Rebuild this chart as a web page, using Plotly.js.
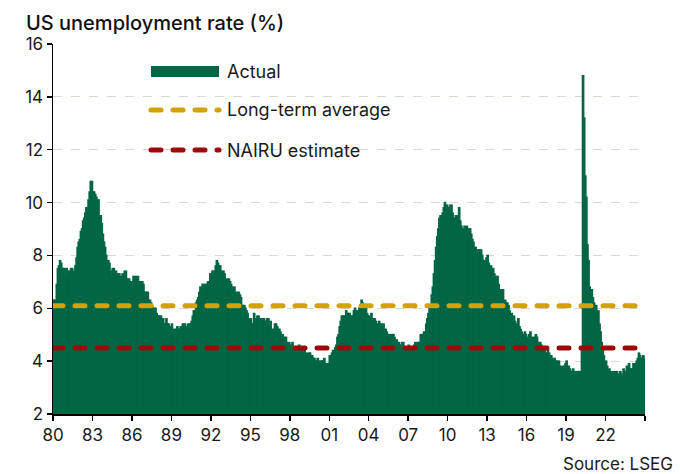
<!DOCTYPE html>
<html>
<head>
<meta charset="utf-8">
<script src="https://cdn.plot.ly/plotly-3.0.1.min.js"></script>
<style>
html,body{margin:0;padding:0;background:#fff;}
#chart{width:680px;height:474px;}
.scatterlayer .js-line{stroke-linecap:round;}
.shapelayer path{stroke-linecap:round;}
</style>
</head>
<body>
<div id="chart"></div>
<script>
// Monthly US unemployment rate (%), Jan 1980 - Dec 2024
const startYear = 1980;
const rate = [
  6.3,6.3,6.3,6.9,7.5,7.6,7.8,7.7,7.5,7.5,7.5,7.2,
  7.5,7.4,7.4,7.2,7.5,7.5,7.2,7.4,7.6,7.9,8.3,8.5,
  8.6,8.9,9.0,9.3,9.4,9.6,9.8,9.8,10.1,10.4,10.8,10.8,
  10.4,10.4,10.3,10.2,10.1,10.1,9.4,9.5,9.2,8.8,8.5,8.3,
  8.0,7.8,7.8,7.7,7.4,7.2,7.5,7.5,7.3,7.4,7.2,7.3,
  7.3,7.2,7.2,7.3,7.2,7.4,7.4,7.1,7.1,7.1,7.0,7.0,
  6.7,7.2,7.2,7.1,7.2,7.2,7.0,6.9,7.0,7.0,6.9,6.6,
  6.6,6.6,6.6,6.3,6.3,6.2,6.1,6.0,5.9,6.0,5.8,5.7,
  5.7,5.7,5.7,5.4,5.6,5.4,5.4,5.6,5.4,5.4,5.3,5.3,
  5.4,5.2,5.0,5.2,5.2,5.3,5.2,5.2,5.3,5.3,5.4,5.4,
  5.4,5.3,5.2,5.4,5.4,5.2,5.5,5.7,5.9,5.9,6.2,6.3,
  6.4,6.6,6.8,6.7,6.9,6.9,6.8,6.9,6.9,7.0,7.0,7.3,
  7.3,7.4,7.4,7.4,7.6,7.8,7.7,7.6,7.6,7.3,7.4,7.4,
  7.3,7.1,7.0,7.1,7.1,7.0,6.9,6.8,6.7,6.8,6.6,6.5,
  6.6,6.6,6.5,6.4,6.1,6.1,6.1,6.0,5.9,5.8,5.6,5.5,
  5.6,5.4,5.4,5.8,5.6,5.6,5.7,5.7,5.6,5.5,5.6,5.6,
  5.6,5.5,5.5,5.6,5.6,5.3,5.5,5.1,5.2,5.2,5.4,5.4,
  5.3,5.2,5.2,5.1,4.9,5.0,4.9,4.8,4.9,4.7,4.6,4.7,
  4.6,4.6,4.7,4.3,4.4,4.5,4.5,4.5,4.6,4.5,4.4,4.4,
  4.3,4.4,4.2,4.3,4.2,4.3,4.3,4.2,4.2,4.1,4.1,4.0,
  4.0,4.1,4.0,3.8,4.0,4.0,4.0,4.1,3.9,3.9,3.9,3.9,
  4.2,4.2,4.3,4.4,4.3,4.5,4.6,4.9,5.0,5.3,5.5,5.7,
  5.7,5.7,5.7,5.9,5.8,5.8,5.8,5.7,5.7,5.7,5.9,6.0,
  5.8,5.9,5.9,6.0,6.1,6.3,6.2,6.1,6.1,6.0,5.8,5.7,
  5.7,5.6,5.8,5.6,5.6,5.6,5.5,5.4,5.4,5.5,5.4,5.4,
  5.3,5.4,5.2,5.2,5.1,5.0,5.0,4.9,5.0,5.0,5.0,4.9,
  4.7,4.8,4.7,4.7,4.6,4.6,4.7,4.7,4.5,4.4,4.5,4.4,
  4.6,4.5,4.4,4.5,4.4,4.6,4.7,4.6,4.7,4.7,4.7,5.0,
  5.0,4.9,5.1,5.0,5.4,5.6,5.8,6.1,6.1,6.5,6.8,7.3,
  7.8,8.3,8.7,9.0,9.4,9.5,9.5,9.6,9.8,10.0,9.9,9.9,
  9.8,9.8,9.9,9.9,9.6,9.4,9.4,9.5,9.5,9.4,9.8,9.3,
  9.1,9.0,9.0,9.1,9.0,9.1,9.0,9.0,9.0,8.8,8.6,8.5,
  8.3,8.3,8.2,8.2,8.2,8.2,8.2,8.0,7.8,7.8,7.7,7.9,
  8.0,7.7,7.5,7.6,7.5,7.5,7.3,7.2,7.2,7.2,6.9,6.7,
  6.6,6.7,6.7,6.2,6.3,6.1,6.2,6.1,5.9,5.7,5.8,5.6,
  5.7,5.5,5.4,5.4,5.6,5.3,5.2,5.1,5.0,5.0,5.1,5.0,
  4.8,4.9,5.0,5.1,4.8,4.9,4.8,4.9,5.0,4.9,4.7,4.7,
  4.7,4.6,4.4,4.4,4.4,4.3,4.3,4.4,4.3,4.2,4.2,4.1,
  4.0,4.1,4.0,4.0,3.8,4.0,3.8,3.8,3.7,3.8,3.8,3.9,
  4.0,3.8,3.8,3.7,3.6,3.6,3.7,3.6,3.5,3.6,3.6,3.6,
  3.6,3.5,4.4,14.8,13.2,11.0,10.2,8.4,7.8,6.8,6.7,6.7,
  6.4,6.2,6.1,6.1,5.8,5.9,5.4,5.1,4.7,4.5,4.2,3.9,
  4.0,3.8,3.6,3.7,3.6,3.6,3.5,3.6,3.5,3.6,3.6,3.5,
  3.4,3.6,3.5,3.4,3.7,3.6,3.5,3.8,3.8,3.9,3.7,3.7,
  3.7,3.9,3.9,3.9,4.0,4.1,4.3,4.2,4.1,4.1,4.2,4.1
];
const longTermAverage = 6.1;
const nairuEstimate = 4.5;
const tickYears = [1980,1983,1986,1989,1992,1995,1998,2001,2004,2007,2010,2013,2016,2019,2022,2025];
const tickLabels = ['80','83','86','89','92','95','98','01','04','07','10','13','16','19','22',''];
const seriesNames = ['Actual','Long-term average','NAIRU estimate'];
const xStart = 1980, xEnd = 2025;

const GREEN = '#006644', GOLD = '#d4a108', RED = '#9e0a0a';
const FONT = 'Inter, "Libre Franklin", Lato, sans-serif';

const monthX = rate.map((v, i) => startYear + (i + 0.5) / 12);

const traces = [
  {type:'bar', x: monthX, y: rate, width: 1/12, marker:{color: GREEN, line:{width:1.6, color: GREEN}},
   name: seriesNames[0], showlegend:false, hoverinfo:'x+y'},
  {type:'scatter', mode:'lines', x:[xStart, xEnd], y:[longTermAverage, longTermAverage],
   line:{color: GOLD, width:5, dash:'10px,12px'}, name: seriesNames[1], showlegend:false},
  {type:'scatter', mode:'lines', x:[xStart, xEnd], y:[nairuEstimate, nairuEstimate],
   line:{color: RED, width:5, dash:'10px,12px'}, name: seriesNames[2], showlegend:false}
];

// legend (manual) positioned in paper coordinates
const L = 53, R = 645, T = 44, B = 414;
const px = x => (x - L) / (R - L);
const py = y => (B - y) / (B - T);

const shapes = [
  {type:'rect', xref:'paper', yref:'paper', x0:px(151), x1:px(219), y0:py(77), y1:py(66),
   fillcolor: GREEN, line:{width:0}},
  {type:'line', xref:'paper', yref:'paper', x0:px(151), x1:px(219), y0:py(110), y1:py(110),
   line:{color: GOLD, width:5, dash:'10px,12px'}},
  {type:'line', xref:'paper', yref:'paper', x0:px(151), x1:px(219), y0:py(150), y1:py(150),
   line:{color: RED, width:5, dash:'10px,12px'}}
];

const legFont = {family: FONT, size: 18, color:'#1a1a1a'};
const annotations = [
  {xref:'paper', yref:'paper', x:px(225), y:py(71), xanchor:'left', yanchor:'middle', text: seriesNames[0], showarrow:false, font: legFont},
  {xref:'paper', yref:'paper', x:px(225), y:py(110), xanchor:'left', yanchor:'middle', text: seriesNames[1], showarrow:false, font: legFont},
  {xref:'paper', yref:'paper', x:px(225), y:py(150), xanchor:'left', yanchor:'middle', text: seriesNames[2], showarrow:false, font: legFont},
  {xref:'paper', yref:'paper', x:px(675), y:py(464), xanchor:'right', yanchor:'middle', text:'Source: LSEG', showarrow:false,
   font:{family: FONT, size: 17, color:'#1a1a1a'}}
];

const layout = {
  width: 680, height: 474,
  margin: {l: L, r: 680 - R, t: T, b: 474 - B},
  paper_bgcolor:'#ffffff', plot_bgcolor:'#ffffff',
  bargap: 0,
  showlegend: false,
  title: {text:'US unemployment rate (%)', xref:'container', yref:'container', x: 26/680, xanchor:'left',
          y: 1 - 23/474, yanchor:'middle', font:{family: FONT, size: 20, color:'#111', weight: 500}},
  xaxis: {range:[xStart, xEnd], tickvals: tickYears, ticktext: tickLabels, showgrid:false, zeroline:false,
          showline:true, linecolor:'#000', linewidth:1.5, ticks:'outside', ticklen:5, tickwidth:1.5, tickcolor:'#000',
          tickfont:{family: FONT, size: 17, color:'#1a1a1a'}, fixedrange:true},
  yaxis: {range:[2, 16], dtick: 2, tick0: 0, showgrid:true, gridcolor:'#d9d9cc', gridwidth:1, griddash:'dash',
          zeroline:false, showline:true, linecolor:'#000', linewidth:1.5, ticks:'outside', ticklen:5, tickwidth:1.5,
          tickcolor:'#000', tickfont:{family: FONT, size: 17, color:'#1a1a1a'}, fixedrange:true},
  shapes: shapes,
  annotations: annotations
};

Plotly.newPlot('chart', traces, layout, {displayModeBar:false, staticPlot:true});
</script>
</body>
</html>
